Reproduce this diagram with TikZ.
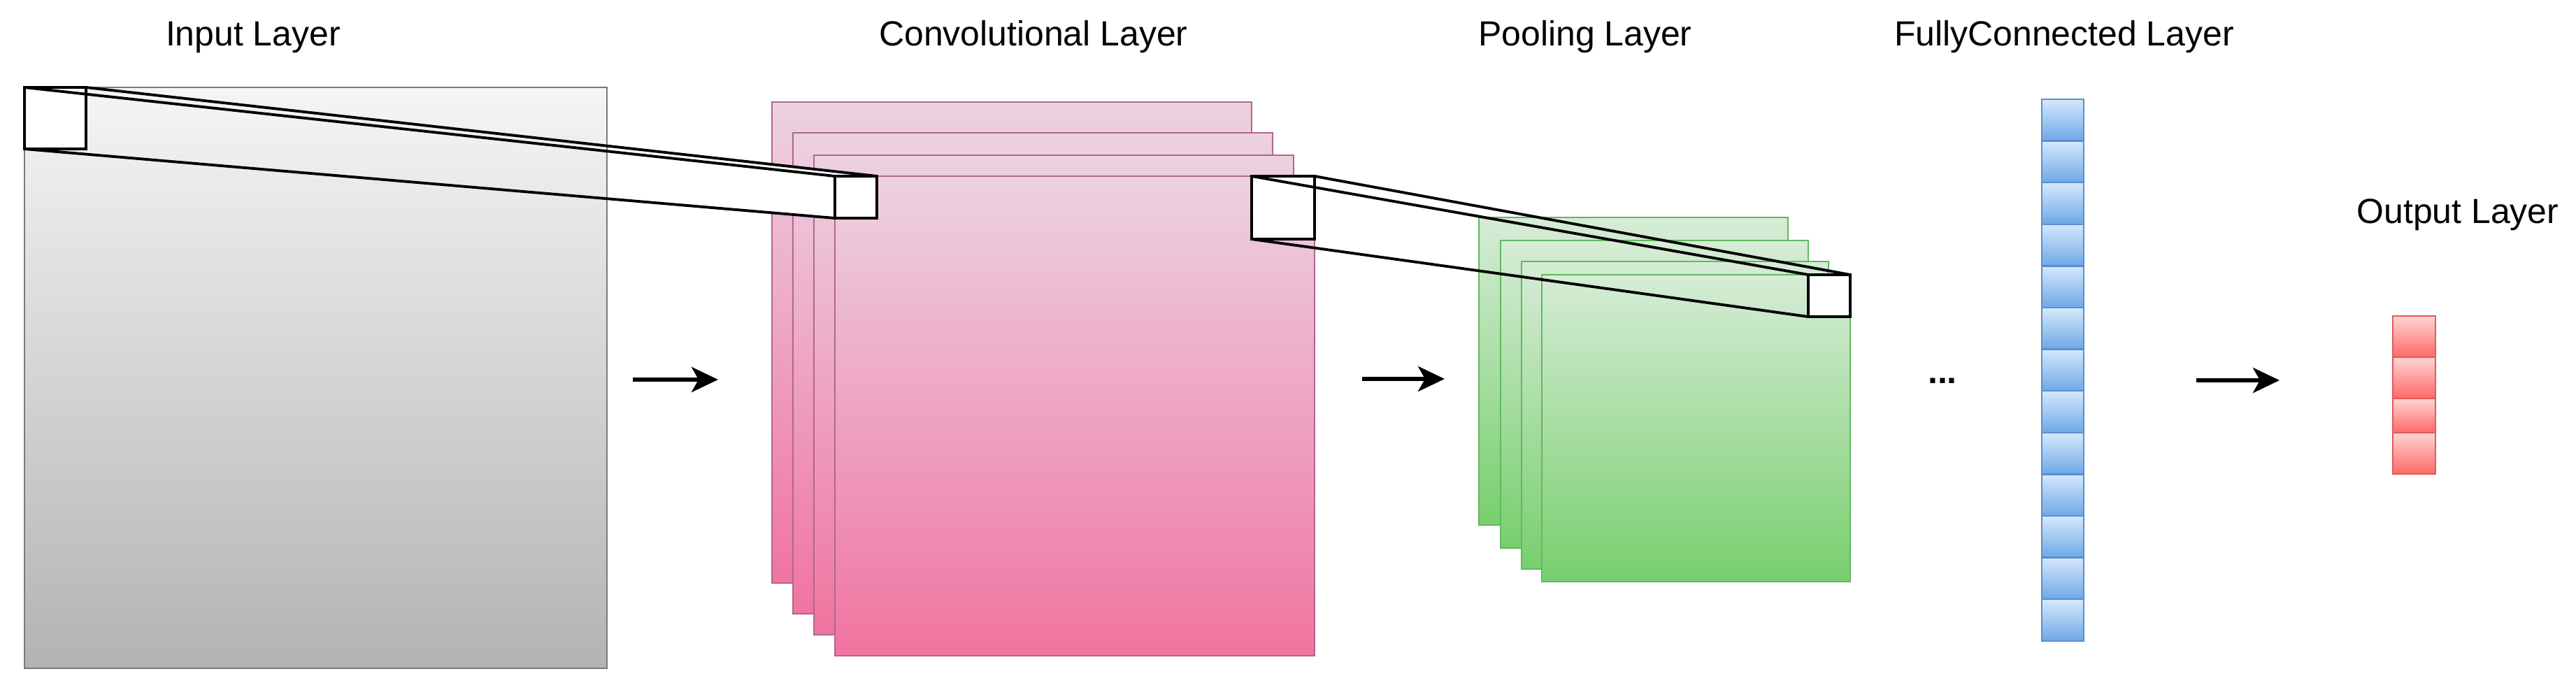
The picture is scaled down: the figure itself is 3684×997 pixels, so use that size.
\documentclass[tikz,border=0pt]{standalone}
\usepackage{fontspec}
\setmainfont{Liberation Sans}
\usetikzlibrary{arrows.meta}
\definecolor{grayA}{HTML}{F5F5F5}
\definecolor{grayB}{HTML}{B3B3B3}
\definecolor{grayS}{HTML}{7A7A7A}
\definecolor{pinkA}{HTML}{ECD2E1}
\definecolor{pinkB}{HTML}{F074A0}
\definecolor{pinkS}{HTML}{B0678F}
\definecolor{greenA}{HTML}{D6ECD6}
\definecolor{greenB}{HTML}{78CF6E}
\definecolor{greenS}{HTML}{62B95E}
\definecolor{blueA}{HTML}{D6E8FC}
\definecolor{blueB}{HTML}{6EA8E6}
\definecolor{blueS}{HTML}{5A8FCF}
\definecolor{redA}{HTML}{FFD4D4}
\definecolor{redB}{HTML}{FF6868}
\definecolor{redS}{HTML}{E05A5A}
\begin{document}
\begin{tikzpicture}[x=0.01cm,y=-0.01cm,
  lbl/.style={font=\fontsize{14.2}{17}\selectfont, anchor=base, inner sep=0pt},
  edge/.style={line width=1.1pt, black},
  sqbox/.style={draw=black, fill=white, line width=1.1pt, inner sep=0pt, outer sep=0pt, anchor=north west},
  pinksheet/.style={top color=pinkA, bottom color=pinkB, draw=pinkS, line width=0.6pt},
  greensheet/.style={top color=greenA, bottom color=greenB, draw=greenS, line width=0.6pt},
  bluecell/.style={top color=blueA, bottom color=blueB, draw=blueS, line width=0.7pt, inner sep=0pt, outer sep=0pt, anchor=north west, minimum width=0.6cm, minimum height=0.596cm},
  redcell/.style={top color=redA, bottom color=redB, draw=redS, line width=0.7pt, inner sep=0pt, outer sep=0pt, anchor=north west, minimum width=0.61cm},
  flow/.style={line width=1.6pt, -{Stealth[length=0.38cm,width=0.36cm,inset=0.1cm]}}
]
\useasboundingbox (0,0) rectangle (3684,997);

% convolutional sheets
\shadedraw[pinksheet] (1104,146) rectangle (1790,834);
\shadedraw[pinksheet] (1134,190) rectangle (1820,878);
\shadedraw[pinksheet] (1164,222) rectangle (1850,908);
\shadedraw[pinksheet] (1194,252) rectangle (1880,938);

% small squares (named nodes)
\node[sqbox, minimum size=0.88cm] (inSq) at (35,125) {};
\node[sqbox, minimum size=0.6cm] (convSqA) at (1194,252) {};
\node[sqbox, minimum size=0.9cm] (convSqB) at (1790,252) {};

% white frustum input -> conv
\fill[white] (inSq.north west) -- (inSq.north east) -- (convSqA.north east)
  -- (convSqA.south east) -- (convSqA.south west) -- (inSq.south west) -- cycle;

% input layer
\shadedraw[top color=grayA, bottom color=grayB, draw=grayS, line width=0.6pt] (35,125) rectangle (868,956);

% redraw squares on top
\node[sqbox, minimum size=0.88cm] at (35,125) {};
\node[sqbox, minimum size=0.6cm] at (1194,252) {};
\node[sqbox, minimum size=0.9cm] at (1790,252) {};

\draw[edge] (inSq.north west) -- (convSqA.north west);
\draw[edge] (inSq.north east) -- (convSqA.north east);
\draw[edge] (inSq.south west) -- (convSqA.south west);

% pooling sheets
\shadedraw[greensheet] (2115,311) rectangle (2557,751);
\shadedraw[greensheet] (2146,344) rectangle (2586,784);
\shadedraw[greensheet] (2176,374) rectangle (2615,814);
\shadedraw[greensheet] (2205,393) rectangle (2646,832);
\node[sqbox, minimum size=0.6cm] (poolSq) at (2586,393) {};

\draw[edge] (convSqB.north west) -- (poolSq.north west);
\draw[edge] (convSqB.north east) -- (poolSq.north east);
\draw[edge] (convSqB.south west) -- (poolSq.south west);

% fully connected column
\foreach \i in {0,...,12}{
  \node[bluecell] (fc\i) at (2920,{142+\i*59.6}) {};
}

% output column
\node[redcell, minimum height=0.59cm] (out0) at (3422,452) {};
\node[redcell, minimum height=0.59cm] (out1) at (3422,511) {};
\node[redcell, minimum height=0.49cm] (out2) at (3422,570) {};
\node[redcell, minimum height=0.59cm] (out3) at (3422,619) {};

% arrows
\coordinate (a1s) at (905,543);
\coordinate (a1e) at (1027,543);
\coordinate (a2s) at (1948,542);
\coordinate (a2e) at (2066,542);
\coordinate (a3s) at (3141,544);
\coordinate (a3e) at (3260,544);
\draw[flow] (a1s) -- (a1e);
\draw[flow] (a2s) -- (a2e);
\draw[flow] (a3s) -- (a3e);

% labels
\node[lbl] (tIn) at (362,66) {Input Layer};
\node[lbl] (tConv) at (1478,66) {Convolutional Layer};
\node[lbl] (tPool) at (2267,66) {Pooling Layer};
\node[lbl] (tFC) at (2952,66) {FullyConnected Layer};
\node[lbl] (tOut) at (3515,320) {Output Layer};
\node[lbl, font=\fontsize{14.2}{17}\selectfont\bfseries] (dots) at (2778,548) {...};
\end{tikzpicture}
\end{document}
